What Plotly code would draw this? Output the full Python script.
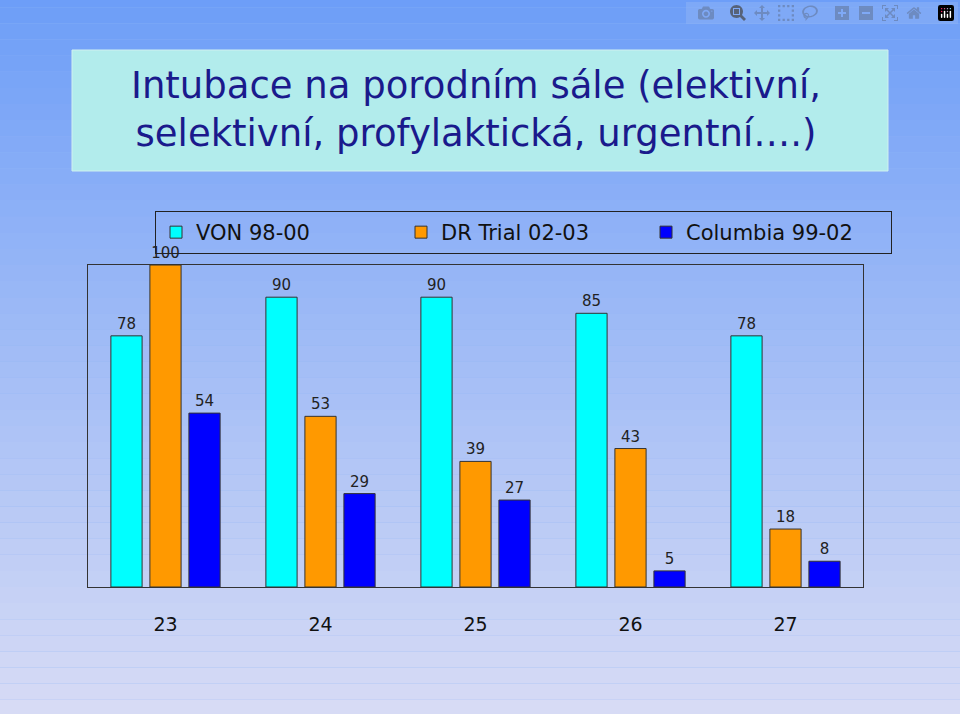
import plotly.graph_objects as go

categories = ["23", "24", "25", "26", "27"]
von = [78, 90, 90, 85, 78]
dr_trial = [100, 53, 39, 43, 18]
columbia = [54, 29, 27, 5, 8]

W, H = 960, 714
fig = go.Figure()

series = [("VON 98-00", von, "#00ffff"),
          ("DR Trial 02-03", dr_trial, "#ff9900"),
          ("Columbia 99-02", columbia, "#0000ff")]
for name, vals, col in series:
    fig.add_trace(go.Bar(
        x=categories, y=vals, name=name, text=[str(v) for v in vals],
        textposition="outside", cliponaxis=False,
        textfont=dict(size=15, color="#222222"),
        marker=dict(color=col, line=dict(color="#333333", width=1)),
    ))

# background gradient stripes
shapes = []
n = 60
top, bot = (0x5c, 0x94, 0xf8), (0xea, 0xe6, 0xf4)
for i in range(n):
    t = i / (n - 1)
    c = tuple(round(top[k] + (bot[k] - top[k]) * t) for k in range(3))
    shapes.append(dict(type="rect", xref="paper", yref="paper", layer="below",
                       x0=-1, x1=2, y0=1 - (i + 1) / n * 3 + 1.2, y1=1 - i / n * 3 + 1.2,
                       fillcolor="rgb(%d,%d,%d)" % c, line=dict(width=0)))
# title box
px = lambda x: (x - 88) / (863 - 88)
py = lambda y: (587 - y) / (587 - 265)
shapes.append(dict(type="rect", xref="paper", yref="paper",
                   x0=px(72), x1=px(888), y0=py(171), y1=py(50),
                   fillcolor="#b2ecec", line=dict(color="#d0f0f0", width=1)))

fig.update_layout(
    width=W, height=H, barmode="group", bargap=0.245, bargroupgap=0.2,
    margin=dict(l=88, r=97, t=265, b=127),
    paper_bgcolor="#8fb4f5", plot_bgcolor="rgba(0,0,0,0)",
    font=dict(family="DejaVu Sans", color="#111111"),
    shapes=shapes,
    annotations=[dict(xref="paper", yref="paper", x=0.5, y=py(110), showarrow=False,
                      xanchor="center", yanchor="middle",
                      text="Intubace na porodním sále (elektivní,<br>selektivní, profylaktická, urgentní….)",
                      font=dict(size=37, color="#1a1a8c", family="DejaVu Sans"))],
    legend=dict(orientation="h", x=px(155), y=py(211), xanchor="left", yanchor="top",
                bgcolor="rgba(0,0,0,0)", bordercolor="#222222", borderwidth=1,
                font=dict(size=21), itemwidth=30, tracegroupgap=0,
                entrywidth=200),
    xaxis=dict(showline=True, linecolor="#333333", mirror=True, ticks="",
               tickfont=dict(size=19), ticklabelstandoff=20),
    yaxis=dict(range=[0, 100], showticklabels=False, showgrid=False, zeroline=False,
               showline=True, linecolor="#333333", mirror=True),
)
fig.write_html("out.html", post_script="document.body.style.margin='0';")
